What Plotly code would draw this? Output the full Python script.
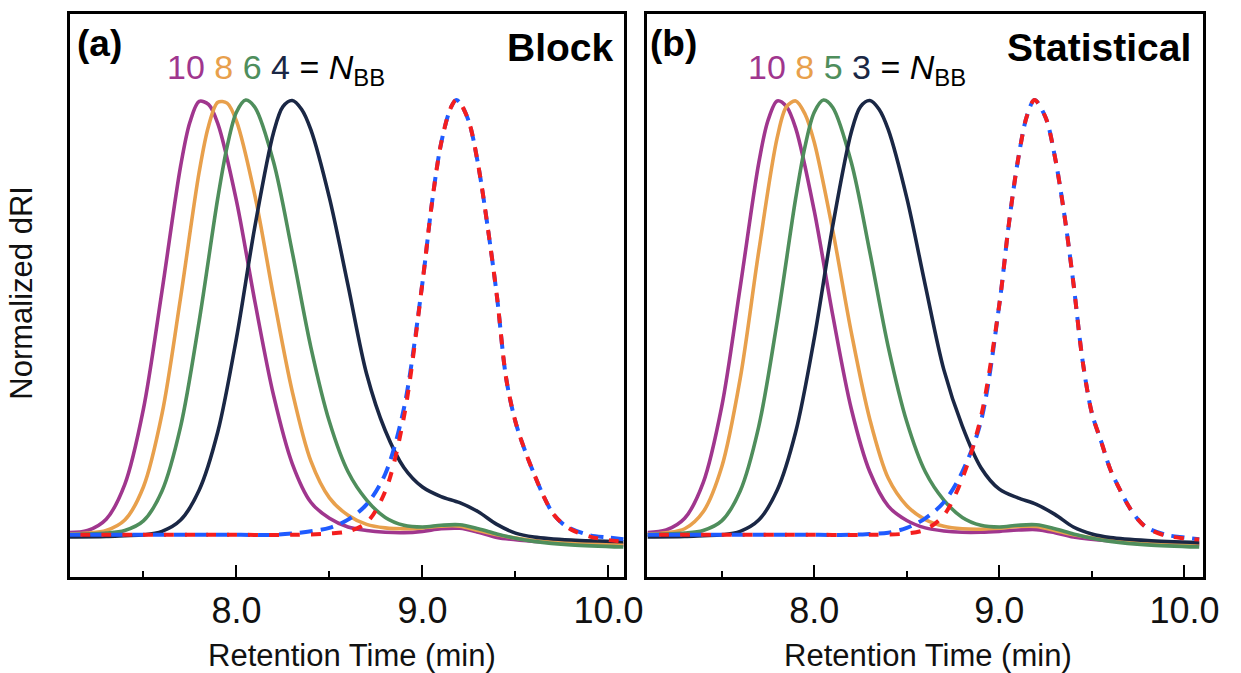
import plotly.graph_objects as go

W, H = 1241, 673

# ---------------- data (panel a : Block) ----------------
t_purple_a = [7.10,7.20,7.30,7.40,7.50,7.60,7.70,7.75,7.80,7.85,7.90,8.00,8.10,8.20,8.30,8.40,8.50,8.60,8.70,8.80,8.90,9.00,9.10,9.20,9.30,9.40,9.60,9.80,10.08]
v_purple_a = [0.005,0.01,0.036,0.116,0.289,0.561,0.848,0.949,0.997,0.99,0.946,0.769,0.535,0.320,0.164,0.075,0.038,0.018,0.010,0.006,0.005,0.008,0.014,0.015,0.006,-0.006,-0.015,-0.019,-0.023]

t_orange_a = [7.10,7.20,7.30,7.40,7.50,7.60,7.70,7.80,7.85,7.90,7.95,8.00,8.10,8.20,8.30,8.40,8.50,8.60,8.70,8.80,8.90,9.00,9.10,9.20,9.30,9.40,9.60,9.80,10.08]
v_orange_a = [0.002,0.004,0.01,0.034,0.110,0.278,0.546,0.835,0.94,0.995,0.993,0.952,0.779,0.547,0.33,0.170,0.085,0.045,0.024,0.016,0.014,0.016,0.02,0.02,0.01,0.0,-0.013,-0.018,-0.021]

t_green_a = [7.10,7.20,7.30,7.40,7.50,7.60,7.70,7.80,7.90,7.95,8.00,8.05,8.10,8.20,8.30,8.40,8.50,8.60,8.70,8.80,8.90,9.00,9.10,9.20,9.30,9.40,9.50,9.60,9.80,10.08]
v_green_a = [0.0,0.002,0.004,0.01,0.032,0.101,0.249,0.492,0.775,0.893,0.972,1.0,0.983,0.857,0.651,0.432,0.26,0.145,0.08,0.04,0.022,0.018,0.022,0.023,0.014,0.002,-0.008,-0.015,-0.023,-0.028]

t_navy_a = [7.10,7.30,7.40,7.50,7.60,7.70,7.80,7.90,8.00,8.10,8.20,8.25,8.30,8.35,8.40,8.50,8.60,8.70,8.80,8.90,9.00,9.10,9.20,9.30,9.40,9.50,9.60,9.80,10.08]
v_navy_a = [-0.005,-0.004,-0.002,0.0,0.008,0.034,0.103,0.237,0.452,0.711,0.926,0.985,0.999,0.979,0.932,0.775,0.574,0.37,0.24,0.155,0.11,0.088,0.074,0.053,0.024,0.004,-0.005,-0.012,-0.016]

t_red_a = [7.10,7.50,8.00,8.30,8.50,8.60,8.70,8.80,8.90,9.00,9.05,9.10,9.15,9.18,9.20,9.25,9.30,9.35,9.40,9.45,9.50,9.55,9.60,9.65,9.70,9.75,9.80,9.90,10.00,10.08]
v_red_a = [0.0,0.0,0.0,0.0,0.003,0.008,0.028,0.10,0.27,0.58,0.76,0.90,0.98,1.0,0.995,0.95,0.85,0.71,0.55,0.36,0.26,0.195,0.14,0.09,0.05,0.027,0.012,-0.004,-0.012,-0.016]

t_blue_a = [7.10,7.50,8.00,8.20,8.30,8.40,8.50,8.60,8.70,8.80,8.90,9.00,9.05,9.10,9.15,9.18,9.20,9.25,9.30,9.35,9.40,9.45,9.50,9.55,9.60,9.65,9.70,9.75,9.80,9.90,10.00,10.08]
v_blue_a = [0.0,0.0,0.0,0.0,0.003,0.008,0.016,0.035,0.07,0.14,0.29,0.58,0.76,0.90,0.98,1.0,0.995,0.95,0.85,0.71,0.55,0.36,0.26,0.195,0.14,0.09,0.05,0.027,0.014,-0.001,-0.006,-0.010]

# ---------------- data (panel b : Statistical) ----------------
t_purple_b = [7.10,7.20,7.30,7.40,7.50,7.60,7.70,7.75,7.80,7.85,7.90,8.00,8.10,8.20,8.30,8.40,8.50,8.60,8.70,8.80,8.90,9.00,9.10,9.20,9.30,9.40,9.60,9.80,10.08]
v_purple_b = [0.005,0.011,0.038,0.12,0.295,0.57,0.855,0.953,0.998,0.985,0.935,0.745,0.505,0.29,0.145,0.066,0.033,0.016,0.009,0.006,0.006,0.008,0.011,0.012,0.005,-0.005,-0.014,-0.018,-0.022]

t_orange_b = [7.10,7.20,7.30,7.40,7.50,7.60,7.70,7.80,7.85,7.90,7.95,8.00,8.10,8.20,8.30,8.40,8.50,8.60,8.70,8.80,8.90,9.00,9.10,9.20,9.30,9.40,9.60,9.80,10.08]
v_orange_b = [0.002,0.005,0.014,0.053,0.156,0.36,0.652,0.914,0.985,0.998,0.968,0.903,0.70,0.466,0.266,0.13,0.067,0.035,0.02,0.014,0.013,0.015,0.019,0.019,0.01,0.0,-0.012,-0.017,-0.02]

t_green_b = [7.10,7.20,7.30,7.40,7.50,7.60,7.70,7.80,7.90,7.95,8.00,8.05,8.10,8.20,8.30,8.40,8.50,8.60,8.70,8.80,8.90,9.00,9.10,9.20,9.30,9.40,9.50,9.60,9.80,10.08]
v_green_b = [0.0,0.002,0.004,0.01,0.032,0.101,0.249,0.492,0.775,0.893,0.972,1.0,0.983,0.857,0.651,0.432,0.26,0.145,0.08,0.04,0.022,0.018,0.022,0.023,0.014,0.002,-0.008,-0.015,-0.023,-0.028]

t_navy_b = [7.10,7.30,7.40,7.50,7.60,7.70,7.80,7.90,8.00,8.10,8.20,8.25,8.30,8.35,8.40,8.50,8.60,8.70,8.80,8.90,9.00,9.10,9.20,9.30,9.40,9.50,9.60,9.80,10.08]
v_navy_b = [-0.005,-0.004,-0.002,0.0,0.008,0.034,0.103,0.237,0.452,0.711,0.926,0.985,0.999,0.979,0.932,0.775,0.574,0.38,0.25,0.155,0.105,0.085,0.07,0.047,0.018,0.002,-0.006,-0.013,-0.018]

t_red_b = [7.10,7.50,8.00,8.30,8.50,8.60,8.70,8.80,8.90,9.00,9.05,9.10,9.15,9.19,9.25,9.30,9.35,9.40,9.45,9.50,9.55,9.60,9.65,9.70,9.75,9.80,9.90,10.00,10.08]
v_red_b = [0.0,0.0,0.0,0.0,0.003,0.012,0.045,0.13,0.27,0.53,0.71,0.86,0.965,1.0,0.96,0.87,0.74,0.58,0.40,0.28,0.215,0.15,0.105,0.065,0.035,0.015,-0.002,-0.008,-0.011]

t_blue_b = [7.10,7.50,8.00,8.20,8.30,8.40,8.50,8.60,8.70,8.80,8.90,9.00,9.05,9.10,9.15,9.19,9.25,9.30,9.35,9.40,9.45,9.50,9.55,9.60,9.65,9.70,9.75,9.80,9.90,10.00,10.08]
v_blue_b = [0.0,0.0,0.0,0.0,0.002,0.005,0.016,0.038,0.075,0.145,0.26,0.53,0.71,0.86,0.965,1.0,0.96,0.87,0.74,0.58,0.40,0.28,0.215,0.15,0.105,0.065,0.035,0.016,0.0,-0.006,-0.010]

labels_a = ["10", "8", "6", "4"]
labels_b = ["10", "8", "5", "3"]
panel_titles = ["Block", "Statistical"]
panel_tags = ["(a)", "(b)"]
tick_vals = [8.0, 9.0, 10.0]
tick_text = ["8.0", "9.0", "10.0"]
minor_vals = [7.5, 8.5, 9.5]

PURPLE = "#A0368E"
ORANGE = "#E8A04C"
GREEN = "#4F8E5C"
NAVY = "#1A2745"
RED = "#F41E1E"
BLUE = "#1F5BFF"
FONT = "Liberation Sans, Arial, Helvetica, sans-serif"

fig = go.Figure()

def px_x(p):
    return p / W

def px_y(p):
    return 1 - p / H

panels = [
    dict(xa="x", ya="y",
         solids=[(t_purple_a, v_purple_a, PURPLE), (t_orange_a, v_orange_a, ORANGE),
                 (t_green_a, v_green_a, GREEN), (t_navy_a, v_navy_a, NAVY)],
         blue=(t_blue_a, v_blue_a), red=(t_red_a, v_red_a)),
    dict(xa="x2", ya="y2",
         solids=[(t_purple_b, v_purple_b, PURPLE), (t_orange_b, v_orange_b, ORANGE),
                 (t_green_b, v_green_b, GREEN), (t_navy_b, v_navy_b, NAVY)],
         blue=(t_blue_b, v_blue_b), red=(t_red_b, v_red_b)),
]

for p in panels:
    for t, v, c in p["solids"]:
        fig.add_trace(go.Scatter(x=t, y=v, mode="lines", xaxis=p["xa"], yaxis=p["ya"],
                                 line=dict(color=c, width=3.6, shape="spline", smoothing=0.9),
                                 hoverinfo="skip"))
    fig.add_trace(go.Scatter(x=p["blue"][0], y=p["blue"][1], mode="lines", xaxis=p["xa"], yaxis=p["ya"],
                             line=dict(color=BLUE, width=4, dash="13px,8px", shape="spline", smoothing=0.9),
                             hoverinfo="skip"))
    fig.add_trace(go.Scatter(x=p["red"][0], y=p["red"][1], mode="lines", xaxis=p["xa"], yaxis=p["ya"],
                             line=dict(color=RED, width=4, dash="0px,11px,10px,0px", shape="spline", smoothing=0.9),
                             hoverinfo="skip"))

axis_common = dict(showline=True, mirror=True, linecolor="black", linewidth=2.8,
                   showgrid=False, zeroline=False)

xdom_a = [px_x(71), px_x(634)]
xdom_b = [px_x(657), px_x(1222)]
ydom = [px_y(577), px_y(14)]

xcommon = dict(axis_common, ticks="inside", ticklen=12, tickwidth=2.2, tickcolor="black",
               tickmode="array", tickvals=tick_vals, ticktext=tick_text,
               tickfont=dict(family=FONT, size=36, color="#111"),
               minor=dict(tickmode="array", tickvals=minor_vals, ticks="inside",
                          ticklen=6, tickwidth=2.2, tickcolor="black"))

fig.update_layout(
    width=W, height=H,
    margin=dict(l=0, r=0, t=0, b=0),
    paper_bgcolor="white", plot_bgcolor="white",
    showlegend=False,
    xaxis=dict(xcommon, domain=xdom_a, range=[7.105, 10.085], anchor="y"),
    yaxis=dict(axis_common, domain=ydom, range=[-0.097, 1.198], showticklabels=False, ticks="", anchor="x"),
    xaxis2=dict(xcommon, domain=xdom_b, range=[7.096, 10.102], anchor="y2"),
    yaxis2=dict(axis_common, domain=ydom, range=[-0.097, 1.198], showticklabels=False, ticks="", anchor="x2"),
)

annotations = []
def ann(text, x, y, xanchor, size, bold=False, color="black", angle=0):
    annotations.append(dict(text=("<b>%s</b>" % text) if bold else text,
                            x=px_x(x), y=px_y(y), xref="paper", yref="paper",
                            xanchor=xanchor, yanchor="middle", showarrow=False,
                            textangle=angle,
                            font=dict(family=FONT, size=size, color=color)))

def nbb_label(vals):
    cols = [PURPLE, ORANGE, GREEN, NAVY]
    parts = ["<span style='color:%s'>%s</span>" % (c, v) for v, c in zip(vals, cols)]
    return " ".join(parts) + " = <i>N</i><sub>BB</sub>"

# panel a
ann(panel_tags[0], 76, 44, "left", 37, bold=True)
ann(panel_titles[0], 626, 48, "right", 39, bold=True)
ann(nbb_label(labels_a), 168, 70, "left", 34)
ann("Retention Time (min)", 357, 655, "center", 31, color="#111")
# panel b
ann(panel_tags[1], 658, 44, "left", 37, bold=True)
ann(panel_titles[1], 1212, 48, "right", 39, bold=True)
ann(nbb_label(labels_b), 758, 70, "left", 34)
ann("Retention Time (min)", 942, 655, "center", 31, color="#111")
# y title
ann("Normalized dRI", 21, 293, "center", 31, color="#111", angle=-90)

fig.update_layout(annotations=annotations)

fig.write_html("out.html")
